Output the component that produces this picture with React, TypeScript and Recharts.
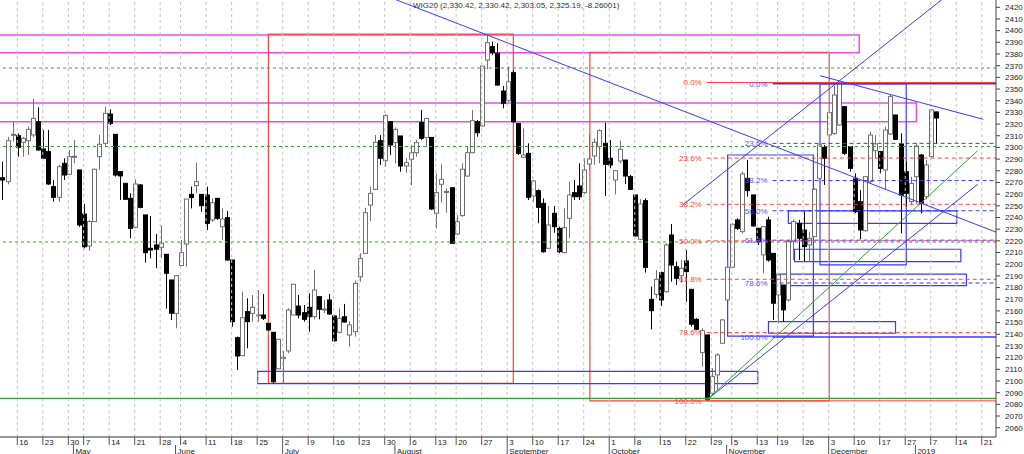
import { ComposedChart, Bar, XAxis, YAxis, ReferenceLine, ReferenceArea } from "recharts"

// trading calendar (Warsaw exchange, 2018/19)
const FIRST_DAY = "2018-04-11"
const HOLIDAYS = [
  "2018-05-01", "2018-05-03", "2018-05-31", "2018-08-15", "2018-11-01", "2018-11-12",
  "2018-12-24", "2018-12-25", "2018-12-26", "2018-12-31", "2019-01-01",
]

const opens = [
  2274.1, 2270.7, 2310.7, 2310.1, 2304.4, 2305.8, 2310.7, 2322.1, 2298.7, 2296.4,
  2266.4, 2257.3, 2286.4, 2277.0, 2291.8, 2280.7, 2243.0, 2215.6, 2236.5, 2292.1,
  2303.5, 2328.6, 2311.2, 2279.3, 2269.3, 2256.4, 2231.6, 2267.9, 2242.2, 2213.6,
  2216.5, 2214.5, 2208.5, 2186.5, 2157.9, 2198.8, 2217.3, 2259.8, 2267.3, 2259.8,
  2259.3, 2237.9, 2256.4, 2232.1, 2239.9, 2203.6, 2137.1, 2121.7, 2159.4, 2157.9,
  2156.3, 2156.5, 2149.4, 2141.7, 2110.4, 2119.8, 2125.7, 2156.5, 2164.2, 2158.5,
  2163.1, 2155.1, 2172.2, 2161.2, 2169.4, 2155.7, 2141.7, 2155.0, 2139.4, 2142.2,
  2189.3, 2209.3, 2250.7, 2264.1, 2305.8, 2288.7, 2322.1, 2304.1, 2309.8, 2284.1,
  2289.8, 2295.5, 2321.2, 2308.6, 2308.6, 2243.6, 2268.4, 2262.0, 2265.5, 2225.9,
  2241.6, 2275.5, 2295.5, 2322.1, 2318.4, 2374.8, 2386.3, 2380.6, 2348.3, 2340.0,
  2364.0, 2320.6, 2291.5, 2294.9, 2258.4, 2263.0, 2252.1, 2213.6, 2243.6, 2230.7,
  2209.9, 2239.3, 2261.3, 2267.0, 2261.3, 2285.8, 2292.7, 2300.7, 2303.5, 2290.7,
  2272.1, 2288.4, 2289.2, 2275.0, 2259.3, 2221.3, 2254.4, 2169.9, 2174.2, 2192.8,
  2176.5, 2225.0, 2197.9, 2190.2, 2202.8, 2178.5, 2152.8, 2124.3, 2139.4, 2089.5,
  2105.2, 2132.3, 2169.4, 2197.4, 2237.9, 2227.9, 2273.6, 2259.3, 2230.8, 2208.0,
  2237.9, 2209.3, 2173.7, 2182.2, 2169.4, 2219.4, 2235.0, 2229.3, 2216.5, 2223.6,
  2273.6, 2300.1, 2310.7, 2312.1, 2319.2, 2334.9, 2300.7, 2273.5, 2253.6, 2228.7,
  2270.7, 2297.2, 2296.4, 2280.7, 2311.5, 2327.8, 2302.9, 2279.2, 2253.6, 2275.0,
  2293.5, 2257.8, 2292.1, 2330.42,
]
const highs = [
  2287.8, 2309.0, 2322.0, 2312.0, 2309.0, 2318.0, 2341.5, 2334.4, 2315.0, 2315.0,
  2272.1, 2285.0, 2290.7, 2297.8, 2306.4, 2280.7, 2251.6, 2238.0, 2282.0, 2310.7,
  2334.9, 2332.6, 2311.2, 2279.3, 2269.3, 2260.7, 2272.7, 2268.7, 2242.2, 2241.3,
  2225.9, 2233.0, 2208.5, 2186.5, 2190.8, 2220.7, 2255.8, 2266.4, 2286.9, 2259.8,
  2266.4, 2256.4, 2256.4, 2247.8, 2245.6, 2203.6, 2138.0, 2176.5, 2170.8, 2173.6,
  2177.9, 2174.5, 2149.4, 2141.7, 2136.0, 2125.7, 2162.2, 2182.8, 2173.6, 2165.1,
  2175.1, 2195.0, 2172.2, 2169.4, 2174.5, 2155.7, 2162.2, 2166.0, 2151.0, 2186.0,
  2209.3, 2248.4, 2266.4, 2310.6, 2310.6, 2328.3, 2322.1, 2317.2, 2309.8, 2290.7,
  2302.1, 2306.4, 2332.0, 2324.9, 2308.6, 2277.8, 2285.5, 2265.0, 2265.5, 2242.1,
  2286.4, 2300.7, 2332.0, 2323.5, 2369.7, 2396.3, 2390.6, 2389.1, 2352.6, 2369.1,
  2366.0, 2320.6, 2316.3, 2303.5, 2272.1, 2264.1, 2256.4, 2249.8, 2249.8, 2232.1,
  2247.8, 2270.7, 2272.1, 2286.4, 2290.7, 2310.6, 2307.8, 2315.5, 2321.2, 2306.4,
  2280.7, 2305.8, 2289.2, 2276.4, 2259.3, 2255.8, 2256.4, 2180.8, 2195.0, 2193.6,
  2217.9, 2234.4, 2202.2, 2203.6, 2212.2, 2178.5, 2153.7, 2145.1, 2139.4, 2110.9,
  2123.8, 2152.8, 2203.6, 2235.1, 2239.3, 2279.3, 2289.3, 2259.3, 2230.8, 2232.2,
  2240.7, 2209.3, 2191.4, 2182.2, 2220.8, 2238.5, 2237.9, 2245.1, 2227.9, 2265.0,
  2303.6, 2302.1, 2330.7, 2352.6, 2355.4, 2335.5, 2300.7, 2277.8, 2263.5, 2275.5,
  2313.5, 2310.6, 2296.4, 2317.8, 2344.9, 2327.8, 2312.1, 2287.8, 2274.9, 2303.5,
  2294.4, 2289.3, 2332.6, 2330.42,
]
const lows = [
  2255.0, 2268.4, 2305.0, 2292.1, 2292.0, 2293.5, 2309.0, 2297.2, 2290.1, 2267.9,
  2253.6, 2253.6, 2272.1, 2276.4, 2286.4, 2232.0, 2213.6, 2211.6, 2236.5, 2280.7,
  2300.7, 2319.2, 2275.0, 2255.0, 2255.0, 2222.2, 2230.7, 2247.9, 2201.4, 2205.0,
  2196.5, 2205.0, 2162.0, 2152.3, 2145.1, 2198.5, 2197.9, 2247.8, 2260.7, 2245.0,
  2229.3, 2236.4, 2237.9, 2220.7, 2203.0, 2146.5, 2109.4, 2121.4, 2128.0, 2150.8,
  2150.8, 2152.2, 2143.0, 2098.0, 2110.0, 2098.0, 2123.7, 2156.5, 2153.7, 2150.8,
  2142.2, 2152.8, 2152.8, 2158.0, 2156.5, 2133.7, 2140.8, 2150.0, 2129.4, 2138.0,
  2185.1, 2209.3, 2237.0, 2263.5, 2285.0, 2283.5, 2293.5, 2286.4, 2279.2, 2278.4,
  2267.8, 2292.1, 2306.4, 2300.7, 2246.4, 2230.7, 2252.7, 2244.1, 2217.9, 2225.0,
  2240.7, 2274.9, 2294.9, 2309.2, 2317.8, 2366.9, 2379.0, 2352.9, 2333.5, 2339.2,
  2321.0, 2293.5, 2290.7, 2255.0, 2253.6, 2235.0, 2209.9, 2213.0, 2227.0, 2209.3,
  2209.3, 2222.2, 2255.0, 2255.0, 2260.1, 2280.1, 2285.0, 2286.4, 2258.4, 2282.1,
  2259.8, 2286.4, 2268.7, 2263.5, 2223.6, 2220.7, 2192.8, 2144.2, 2170.8, 2164.2,
  2175.6, 2185.1, 2182.2, 2184.2, 2168.0, 2146.6, 2143.7, 2112.3, 2083.0, 2089.5,
  2092.3, 2132.3, 2168.8, 2196.5, 2229.3, 2226.5, 2257.9, 2232.2, 2216.5, 2192.2,
  2202.2, 2152.3, 2149.4, 2150.9, 2168.0, 2203.6, 2203.6, 2202.2, 2202.2, 2223.6,
  2272.7, 2267.9, 2309.3, 2310.7, 2318.4, 2293.6, 2279.3, 2243.6, 2221.3, 2227.9,
  2269.8, 2290.7, 2277.8, 2264.1, 2310.6, 2306.4, 2226.4, 2249.3, 2251.6, 2251.6,
  2243.6, 2255.5, 2292.1, 2303.05,
]
const closes = [
  2272.1, 2305.8, 2311.2, 2300.1, 2307.8, 2315.5, 2324.9, 2297.8, 2290.7, 2268.7,
  2257.3, 2283.5, 2276.4, 2292.1, 2292.4, 2233.6, 2215.0, 2236.5, 2281.3, 2302.7,
  2329.2, 2320.6, 2276.4, 2275.6, 2255.6, 2230.7, 2268.7, 2248.7, 2209.9, 2212.2,
  2212.8, 2217.9, 2192.2, 2158.0, 2190.2, 2209.9, 2255.8, 2257.0, 2270.7, 2250.1,
  2235.0, 2252.7, 2239.3, 2238.7, 2203.6, 2150.8, 2121.4, 2154.2, 2150.8, 2163.1,
  2156.7, 2153.7, 2143.7, 2099.4, 2135.7, 2120.2, 2160.8, 2182.8, 2156.5, 2152.8,
  2155.1, 2177.9, 2161.4, 2161.6, 2157.4, 2134.5, 2153.7, 2150.5, 2148.0, 2183.6,
  2205.0, 2244.1, 2260.7, 2304.4, 2290.7, 2327.2, 2302.1, 2315.5, 2284.1, 2287.0,
  2295.5, 2304.1, 2307.8, 2324.9, 2247.3, 2261.3, 2272.7, 2262.3, 2217.9, 2236.4,
  2281.3, 2295.5, 2322.9, 2312.6, 2369.7, 2389.7, 2381.1, 2353.4, 2337.8, 2356.3,
  2322.0, 2294.9, 2293.5, 2257.3, 2271.3, 2248.7, 2210.7, 2233.6, 2232.1, 2210.7,
  2231.3, 2259.3, 2257.8, 2257.8, 2280.7, 2290.1, 2304.4, 2314.4, 2285.5, 2285.0,
  2280.1, 2298.4, 2275.5, 2264.1, 2224.2, 2251.6, 2197.3, 2160.2, 2187.1, 2169.4,
  2216.5, 2199.3, 2187.9, 2196.5, 2193.7, 2148.6, 2144.3, 2143.1, 2084.4, 2103.8,
  2122.3, 2152.3, 2197.4, 2234.2, 2230.7, 2277.3, 2263.0, 2232.8, 2219.4, 2232.2,
  2203.6, 2166.6, 2190.8, 2160.9, 2219.4, 2236.5, 2222.2, 2215.1, 2222.2, 2264.2,
  2302.1, 2290.7, 2329.8, 2344.9, 2354.3, 2295.0, 2282.1, 2245.0, 2229.3, 2275.0,
  2310.6, 2303.0, 2282.1, 2314.9, 2343.5, 2306.9, 2259.2, 2260.7, 2269.2, 2301.2,
  2252.1, 2285.0, 2332.1, 2325.19,
]

// axis labels
const weekTicks = [
  "2018-04-16", "2018-04-23", "2018-04-30", "2018-05-07", "2018-05-14", "2018-05-21", "2018-05-28",
  "2018-06-04", "2018-06-11", "2018-06-18", "2018-06-25", "2018-07-02", "2018-07-09", "2018-07-16",
  "2018-07-23", "2018-07-30", "2018-08-06", "2018-08-13", "2018-08-20", "2018-08-27", "2018-09-03",
  "2018-09-10", "2018-09-17", "2018-09-24", "2018-10-01", "2018-10-08", "2018-10-15", "2018-10-22",
  "2018-10-29", "2018-11-05", "2018-11-13", "2018-11-19", "2018-11-26", "2018-12-03", "2018-12-10",
  "2018-12-17", "2018-12-27", "2019-01-07", "2019-01-14", "2019-01-21",
]
const monthTicks = [
  ["2018-05-02", "May"], ["2018-06-01", "June"], ["2018-07-02", "July"], ["2018-08-01", "August"],
  ["2018-09-03", "September"], ["2018-10-01", "October"], ["2018-11-02", "November"],
  ["2018-12-03", "December"], ["2019-01-02", "2019"],
]
const priceTicks = [
  2060, 2070, 2080, 2090, 2100, 2110, 2120, 2130, 2140, 2150, 2160, 2170, 2180, 2190, 2200, 2210,
  2220, 2230, 2240, 2250, 2260, 2270, 2280, 2290, 2300, 2310, 2320, 2330, 2340, 2350, 2360, 2370,
  2380, 2390, 2400, 2410, 2420,
]

// drawn objects (x in trading-day index, y in index points)
const greenDashed = [2368.0, 2300.8, 2219.0]
const greenSolid = 2085.2
const magentaZones = [
  { x1: -5, x2: 168.0, y1: 2381.0, y2: 2396.3 },
  { x1: -5, x2: 179.2, y1: 2322.0, y2: 2338.0 },
]
const redBoxes = [
  { x1: 52.2, x2: 100.2, y1: 2098.0, y2: 2397.0 },
  { x1: 115.2, x2: 162.1, y1: 2083.0, y2: 2381.5 },
]
const blueBoxes = [
  { x1: 50.1, x2: 148.1, y1: 2097.7, y2: 2108.3 },
  { x1: 142.2, x2: 159.0, y1: 2138.5, y2: 2293.5 },
  { x1: 160.3, x2: 177.2, y1: 2199.4, y2: 2354.4 },
  { x1: 154.1, x2: 187.1, y1: 2235.0, y2: 2245.6 },
  { x1: 155.3, x2: 187.9, y1: 2202.2, y2: 2212.8 },
  { x1: 151.2, x2: 189.0, y1: 2181.6, y2: 2191.5 },
  { x1: 150.2, x2: 175.1, y1: 2140.9, y2: 2150.8 },
]
const redFib = [
  { label: "0.0%", v: 2355.6, solid: true },
  { label: "23.6%", v: 2290.9 },
  { label: "38.2%", v: 2251.3 },
  { label: "50.0%", v: 2220.0 },
  { label: "61.8%", v: 2187.1 },
  { label: "78.6%", v: 2141.4 },
  { label: "100.0%", v: 2083.0, solid: true },
]
const blueFib = [
  { label: "0.0%", v: 2354.6, solid: true },
  { label: "23.6%", v: 2303.5 },
  { label: "38.2%", v: 2271.6 },
  { label: "50.0%", v: 2245.8 },
  { label: "61.8%", v: 2220.6 },
  { label: "78.6%", v: 2183.9 },
  { label: "100.0%", v: 2137.6, solid: true },
]
const trendLines = [
  { color: "#3a3aff", from: [70, 2438.7], to: [194.9, 2227.3] },
  { color: "#3a3aff", from: [133.4, 2250.8], to: [186, 2432.9] },
  { color: "#3a3aff", from: [160.3, 2361.4], to: [192.3, 2324.1] },
  { color: "#3a3aff", from: [138.1, 2083.8], to: [191.2, 2268.4] },
  { color: "#2fa82f", from: [138.1, 2083.8], to: [191.2, 2297.2] },
]

const RED = "#ff4040"
const BLUE = "#3a3aff"

function tradingDays(count: number) {
  const out: string[] = []
  const d = new Date(FIRST_DAY + "T12:00:00Z")
  while (out.length < count) {
    const iso = d.toISOString().slice(0, 10)
    const wd = d.getUTCDay()
    if (wd !== 0 && wd !== 6 && !HOLIDAYS.includes(iso)) out.push(iso)
    d.setUTCDate(d.getUTCDate() + 1)
  }
  return out
}

const calendar = tradingDays(200)
const dayIdx = (iso: string) => calendar.indexOf(iso)

const data = opens.map((open, i) => ({
  i,
  date: calendar[i],
  open,
  high: highs[i],
  low: lows[i],
  close: closes[i],
}))

const tickInfo = new Map<number, { day?: string; month?: string }>()
weekTicks.forEach((d) => {
  tickInfo.set(dayIdx(d), { day: String(Number(d.slice(8))) })
})
monthTicks.forEach(([d, name]) => {
  const k = dayIdx(d)
  tickInfo.set(k, { ...(tickInfo.get(k) || {}), month: name })
})
const xTicks = Array.from(tickInfo.keys()).sort((a, b) => a - b)

function Candle(props: any) {
  const { x, y, width, height, payload } = props
  const { open, close, high, low } = payload
  const cx = Math.round(x + width / 2) + 0.5
  const span = high - low || 1
  const py = (v: number) => y + ((high - v) / span) * height
  const up = close >= open
  const top = py(Math.max(open, close))
  const bot = py(Math.min(open, close))
  const col = up ? "#707070" : "#000"
  return (
    <g>
      <line x1={cx} x2={cx} y1={y} y2={y + height} stroke={col} />
      <rect x={cx - 2} y={top} width={4} height={Math.max(bot - top, 1)} fill={up ? "#fff" : "#000"} stroke={col} />
    </g>
  )
}

function DateTick(props: any) {
  const { x, y, payload } = props
  const t = tickInfo.get(payload.value)
  if (!t) return null
  return (
    <g>
      {t.day && (
        <g>
          <line x1={x} x2={x} y1={y} y2={y + 8} stroke="#555" />
          <text x={x + 2} y={y + 7.5} fontSize={8} fill="#222">{t.day}</text>
        </g>
      )}
      {t.month && (
        <g>
          <line x1={x} x2={x} y1={y + 8} y2={y + 17} stroke="#555" />
          <text x={x + 2} y={y + 16.5} fontSize={8} fill="#222">{t.month}</text>
        </g>
      )}
    </g>
  )
}

export default function App() {
  return (
    <div style={{ position: "relative", width: 1024, height: 454, fontFamily: "'Liberation Sans', Arial, sans-serif", background: "#fff" }}>
      <style>{"body{margin:0}"}</style>
      <ComposedChart width={1024} height={454} data={data} margin={{ top: 0, right: 0, left: 0, bottom: 0 }}>
        <XAxis
          dataKey="i"
          type="number"
          domain={[-0.392, 194.79]}
          allowDataOverflow
          ticks={xTicks}
          interval={0}
          height={17}
          tickSize={0}
          tickMargin={0}
          tick={<DateTick />}
          axisLine={{ stroke: "#333" }}
        />
        <YAxis
          orientation="right"
          domain={[2052.04, 2426.25]}
          allowDataOverflow
          ticks={priceTicks}
          interval={0}
          width={28}
          tickSize={4}
          tickMargin={5}
          tick={{ fontSize: 8, fill: "#222" }}
          axisLine={{ stroke: "#444" }}
          tickLine={{ stroke: "#444" }}
        />
        {weekTicks.map((d) => (
          <ReferenceLine key={"g" + d} x={dayIdx(d)} stroke="#c4c4c4" strokeDasharray="3 3" />
        ))}
        {magentaZones.map((z, k) => (
          <ReferenceArea key={"m" + k} {...z} fill="none" stroke="#e84de8" strokeWidth={1.5} ifOverflow="hidden" />
        ))}
        <Bar dataKey={(d: any) => [d.low, d.high]} barSize={4} shape={<Candle />} isAnimationActive={false} />
        {greenDashed.map((v) => (
          <ReferenceLine key={"gd" + v} y={v} stroke="#2fa82f" strokeDasharray="3 3" />
        ))}
        <ReferenceLine y={greenSolid} stroke="#2fa82f" strokeWidth={1.2} />
        {redBoxes.map((b, k) => (
          <ReferenceArea key={"r" + k} {...b} fill="none" stroke={RED} strokeWidth={1.2} ifOverflow="hidden" />
        ))}
        {blueBoxes.map((b, k) => (
          <ReferenceArea key={"b" + k} {...b} fill="none" stroke={BLUE} strokeWidth={1.2} ifOverflow="hidden" />
        ))}
        {redFib.map((f) => (
          <ReferenceLine
            key={"rf" + f.label}
            segment={[{ x: 138.1, y: f.v }, { x: 200, y: f.v }]}
            stroke={RED}
            strokeDasharray={f.solid ? undefined : "4 3"}
            ifOverflow="hidden"
            label={{ value: f.label, position: "left", fill: RED, fontSize: 8, offset: 5 }}
          />
        ))}
        {blueFib.map((f) => (
          <ReferenceLine
            key={"bf" + f.label}
            segment={[{ x: 151.0, y: f.v }, { x: 200, y: f.v }]}
            stroke={BLUE}
            strokeWidth={f.solid ? 1.5 : 1}
            strokeDasharray={f.solid ? undefined : "4 3"}
            ifOverflow="hidden"
            label={{ value: f.label, position: "left", fill: "#5050ff", fontSize: 8, offset: 5 }}
          />
        ))}
        {trendLines.map((t, k) => (
          <ReferenceLine
            key={"t" + k}
            segment={[{ x: t.from[0], y: t.from[1] }, { x: t.to[0], y: t.to[1] }]}
            stroke={t.color}
            ifOverflow="hidden"
          />
        ))}
      </ComposedChart>
      <div style={{ position: "absolute", left: 413, top: 1, fontSize: 8, color: "#333", whiteSpace: "nowrap" }}>
        WIG20 (2,330.42, 2,330.42, 2,303.05, 2,325.19, -8.26001)
      </div>
    </div>
  )
}
